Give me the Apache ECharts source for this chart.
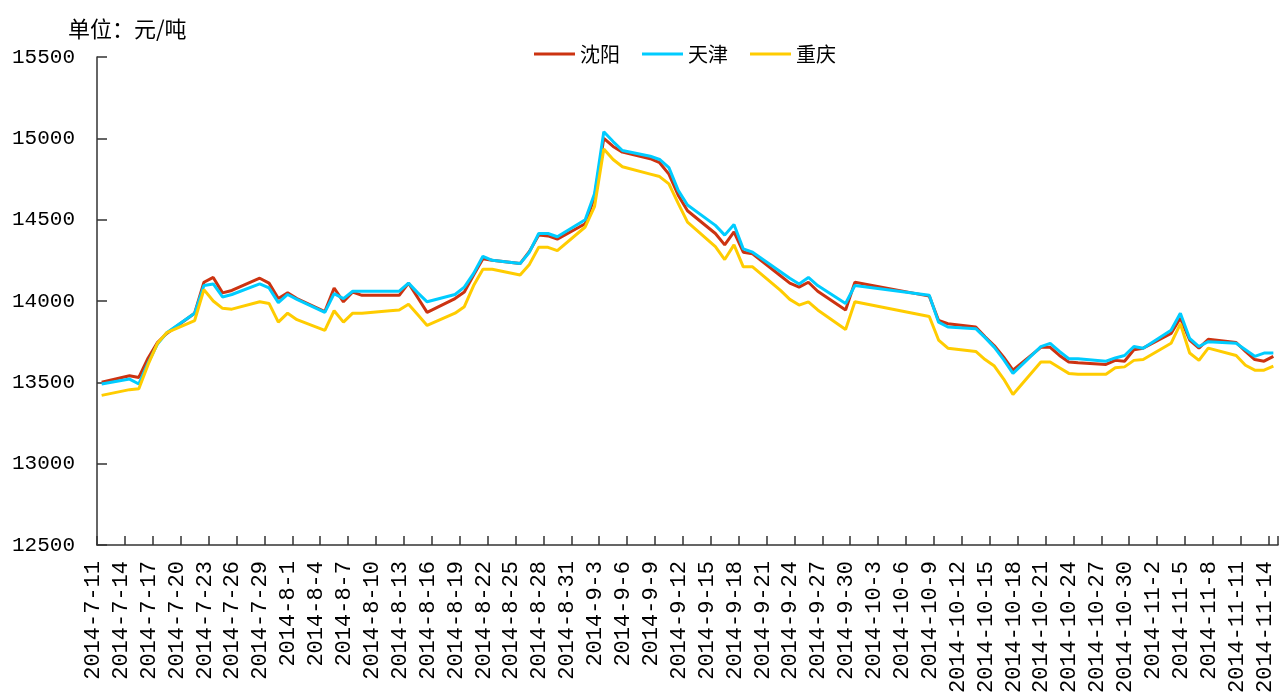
<!DOCTYPE html>
<html>
<head>
<meta charset="utf-8">
<script src="https://cdn.jsdelivr.net/npm/echarts@6/dist/echarts.min.js"></script>
<style>
html,body{margin:0;padding:0;background:#fff;}
#chart{width:1280px;height:699px;}
</style>
</head>
<body>
<div id="chart"></div>
<script>
var seriesNames = ['沈阳', '天津', '重庆'];
var axisStart = [2014, 7, 11];
var axisEnd = [2014, 11, 14];
var yTicks = [12500, 13000, 13500, 14000, 14500, 15000, 15500];

var tradeDates = ['2014-7-11','2014-7-14','2014-7-15','2014-7-16','2014-7-17','2014-7-18','2014-7-21','2014-7-22','2014-7-23','2014-7-24','2014-7-25','2014-7-28','2014-7-29','2014-7-30','2014-7-31','2014-8-1','2014-8-4','2014-8-5','2014-8-6','2014-8-7','2014-8-8','2014-8-11','2014-8-12','2014-8-13','2014-8-14','2014-8-15','2014-8-18','2014-8-19','2014-8-20','2014-8-21','2014-8-22','2014-8-25','2014-8-26','2014-8-27','2014-8-28','2014-8-29','2014-9-1','2014-9-2','2014-9-3','2014-9-4','2014-9-5','2014-9-8','2014-9-9','2014-9-10','2014-9-11','2014-9-12','2014-9-15','2014-9-16','2014-9-17','2014-9-18','2014-9-19','2014-9-22','2014-9-23','2014-9-24','2014-9-25','2014-9-26','2014-9-29','2014-9-30','2014-10-8','2014-10-9','2014-10-10','2014-10-13','2014-10-14','2014-10-15','2014-10-16','2014-10-17','2014-10-20','2014-10-21','2014-10-22','2014-10-23','2014-10-24','2014-10-27','2014-10-28','2014-10-29','2014-10-30','2014-10-31','2014-11-3','2014-11-4','2014-11-5','2014-11-6','2014-11-7','2014-11-10','2014-11-11','2014-11-12','2014-11-13','2014-11-14'];

var shenyang = [13500,13540,13530,13650,13745,13800,13925,14115,14145,14050,14065,14140,14110,14015,14050,14015,13935,14080,13995,14055,14035,14035,14035,14110,14020,13930,14015,14055,14160,14260,14250,14230,14305,14405,14400,14380,14475,14640,15000,14950,14915,14875,14850,14780,14650,14555,14415,14345,14425,14300,14290,14155,14110,14085,14115,14060,13945,14115,14030,13880,13860,13840,13780,13725,13655,13575,13715,13715,13665,13625,13620,13610,13635,13630,13700,13710,13800,13895,13760,13710,13765,13745,13690,13640,13630,13660];

var tianjin = [13490,13520,13490,13620,13735,13805,13925,14095,14105,14025,14040,14105,14080,13990,14040,14010,13930,14045,14015,14060,14060,14060,14060,14110,14050,13995,14040,14085,14170,14275,14250,14230,14300,14415,14415,14395,14500,14660,15040,14980,14925,14890,14870,14820,14680,14590,14465,14405,14470,14320,14300,14180,14140,14105,14145,14095,13985,14095,14035,13870,13840,13830,13775,13715,13640,13555,13720,13740,13690,13645,13645,13630,13650,13665,13720,13710,13820,13925,13770,13720,13750,13740,13700,13660,13680,13680];

var chongqing = [13420,13455,13460,13610,13740,13805,13880,14070,14000,13955,13950,13995,13985,13870,13925,13885,13820,13940,13870,13925,13925,13940,13945,13980,13915,13850,13925,13965,14095,14195,14195,14160,14225,14330,14330,14310,14455,14580,14935,14870,14825,14780,14765,14720,14600,14485,14335,14255,14345,14210,14210,14065,14010,13975,13995,13945,13825,13995,13905,13760,13710,13690,13640,13600,13520,13425,13625,13625,13590,13555,13550,13550,13590,13595,13635,13640,13740,13860,13680,13635,13710,13665,13605,13575,13575,13600];

var colors = ['#CC3311', '#00CCFF', '#FFCC00'];

// calendar-day category axis
var categories = [];
(function(){
  var d = new Date(Date.UTC(axisStart[0], axisStart[1]-1, axisStart[2]));
  var e = new Date(Date.UTC(axisEnd[0], axisEnd[1]-1, axisEnd[2]));
  while (d <= e) {
    categories.push(d.getUTCFullYear() + '-' + (d.getUTCMonth()+1) + '-' + d.getUTCDate());
    d = new Date(d.getTime() + 86400000);
  }
})();

function mapSeries(vals) {
  var lookup = {};
  tradeDates.forEach(function(t, i){ lookup[t] = vals[i]; });
  return categories.map(function(c){ return lookup.hasOwnProperty(c) ? lookup[c] : null; });
}

var allVals = [shenyang, tianjin, chongqing];
var chart = echarts.init(document.getElementById('chart'), null, {renderer: 'canvas'});
var numFont = 'Liberation Mono';
var gridTop = 57, gridBottom = 154, gridLeft = 97, gridRight = 2;
var plotH = 699 - gridTop - gridBottom;
var plotW = 1280 - gridLeft - gridRight;
var axisColor = '#333';

chart.setOption({
  animation: false,
  backgroundColor: '#ffffff',
  title: {
    text: '单位：元/吨',
    left: 63, top: 13,
    textStyle: {fontFamily: 'Noto Sans CJK SC', fontSize: 22, fontWeight: 'normal', color: '#000'}
  },
  legend: {
    data: seriesNames.map(function(n){ return {name: n, icon: 'rect'}; }),
    left: 529, top: 39,
    itemWidth: 41, itemHeight: 3, itemGap: 22,
    textStyle: {fontFamily: 'Noto Sans CJK SC', fontSize: 20, color: '#000'}
  },
  grid: {left: gridLeft, right: gridRight, top: gridTop, bottom: gridBottom, containLabel: false, outerBoundsMode: 'none'},
  xAxis: [{
    type: 'category',
    data: categories,
    boundaryGap: true,
    axisLine: {lineStyle: {color: axisColor, width: 1.5}},
    axisTick: {show: false},
    axisLabel: {
      interval: 2, rotate: 90, margin: 16,
      fontFamily: numFont, fontSize: 22, color: '#000',
      verticalAlign: 'bottom', lineHeight: 17
    },
    splitLine: {show: false}
  }, {
    // tick-only axis: ticks pointing up from the bottom axis line
    type: 'category',
    data: categories,
    boundaryGap: true,
    position: 'top',
    offset: -plotH,
    axisLine: {show: false},
    axisTick: {show: true, length: 9, interval: 2, lineStyle: {color: axisColor, width: 1.5}},
    axisLabel: {show: false},
    splitLine: {show: false}
  }],
  yAxis: [{
    type: 'value',
    min: yTicks[0], max: yTicks[yTicks.length-1], interval: 500,
    axisLine: {show: true, lineStyle: {color: axisColor, width: 1.5}},
    axisTick: {show: false},
    axisLabel: {margin: 22, fontFamily: numFont, fontSize: 21, color: '#000',
      formatter: function(v){ return String(v); }},
    splitLine: {show: false}
  }, {
    // tick-only axis: ticks pointing right from the left axis line
    type: 'value',
    min: yTicks[0], max: yTicks[yTicks.length-1], interval: 500,
    position: 'right',
    offset: -plotW,
    axisLine: {show: false},
    axisTick: {show: true, length: 10, lineStyle: {color: axisColor, width: 1.5}},
    axisLabel: {show: false},
    splitLine: {show: false}
  }],
  series: seriesNames.map(function(n, i){
    return {
      name: n, type: 'line', data: mapSeries(allVals[i]),
      xAxisIndex: 0, yAxisIndex: 0,
      connectNulls: true, showSymbol: false, symbol: 'none', smooth: false,
      lineStyle: {color: colors[i], width: 3},
      itemStyle: {color: colors[i]}
    };
  })
});
</script>
</body>
</html>
